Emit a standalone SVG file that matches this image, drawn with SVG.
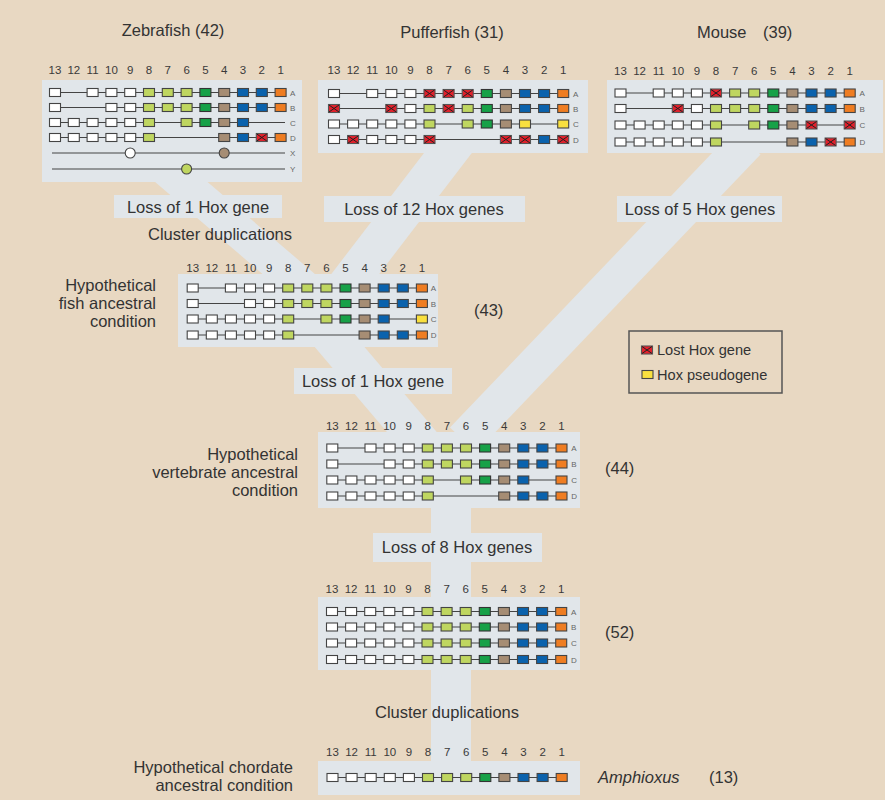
<svg xmlns="http://www.w3.org/2000/svg" xmlns:xlink="http://www.w3.org/1999/xlink" width="891" height="804" viewBox="0 0 891 804">
<style>
text{font-family:"Liberation Sans",Arial,sans-serif;fill:#333}
.t{font-size:16.5px}
.tr{font-size:16.5px;text-anchor:end}
.tm{font-size:16.5px;text-anchor:middle}
.n{font-size:11.5px;text-anchor:middle;fill:#3a3a3a}
.r{font-size:8px;fill:#666}
.p{fill:#e1e6ea}
.band{stroke:#e1e6ea;fill:none}
.ln{stroke:#444;stroke-width:1.1}
.lg{font-size:14.6px}
</style>
<defs>
<rect id="w" x="-5.5" y="-4" width="11" height="8" fill="#fff" stroke="#444" stroke-width="1.1"/>
<rect id="lg" x="-5.5" y="-4" width="11" height="8" fill="#bfd660" stroke="#444" stroke-width="1.1"/>
<rect id="dg" x="-5.5" y="-4" width="11" height="8" fill="#17a148" stroke="#333" stroke-width="1.1"/>
<rect id="br" x="-5.5" y="-4" width="11" height="8" fill="#a68d74" stroke="#444" stroke-width="1.1"/>
<rect id="bl" x="-5.5" y="-4" width="11" height="8" fill="#0a62ad" stroke="#444" stroke-width="1.1"/>
<rect id="or" x="-5.5" y="-4" width="11" height="8" fill="#ef7d22" stroke="#444" stroke-width="1.1"/>
<rect id="ye" x="-5.5" y="-4" width="11" height="8" fill="#f9e03f" stroke="#444" stroke-width="1.1"/>
<g id="lo"><rect x="-5.5" y="-4" width="11" height="8" fill="#e3202b" stroke="#555" stroke-width="1.1"/><path d="M-5,-3.5L5,3.5M-5,3.5L5,-3.5" stroke="#222" stroke-width="1"/></g>
<g id="hdr">
<text class="n" x="0">13</text><text class="n" x="19.1">12</text><text class="n" x="38.2">11</text><text class="n" x="57.3">10</text><text class="n" x="76.4">9</text><text class="n" x="95.5">8</text><text class="n" x="114.6">7</text><text class="n" x="133.7">6</text><text class="n" x="152.8">5</text><text class="n" x="171.9">4</text><text class="n" x="191">3</text><text class="n" x="210.1">2</text><text class="n" x="229.2">1</text>
</g>
<g id="full">
<line class="ln" x1="0" y1="0" x2="229.2" y2="0"/>
<use xlink:href="#w" x="0"/><use xlink:href="#w" x="19.1"/><use xlink:href="#w" x="38.2"/><use xlink:href="#w" x="57.3"/><use xlink:href="#w" x="76.4"/><use xlink:href="#lg" x="95.5"/><use xlink:href="#lg" x="114.6"/><use xlink:href="#lg" x="133.7"/><use xlink:href="#dg" x="152.8"/><use xlink:href="#br" x="171.9"/><use xlink:href="#bl" x="191"/><use xlink:href="#bl" x="210.1"/><use xlink:href="#or" x="229.2"/>
</g>
</defs>

<rect x="0" y="0" width="891" height="804" fill="#fff"/>
<rect x="0" y="0" width="885" height="800" fill="#e8d8c2"/>

<g id="connectors">
<line class="band" x1="158" y1="162" x2="305" y2="288" stroke-width="34"/>
<line class="band" x1="464" y1="132" x2="343" y2="290" stroke-width="38"/>
<line class="band" x1="326" y1="331" x2="428" y2="451" stroke-width="38"/>
<line class="band" x1="747.5" y1="142" x2="463" y2="440" stroke-width="36"/>
<rect class="p" x="431" y="500" width="40" height="270"/>
</g>

<g id="zebrafish">
<rect class="p" x="42" y="80" width="260" height="102"/>
<text class="t" x="173" y="36" text-anchor="middle">Zebrafish (42)</text>
<g transform="translate(55,74)">
<text class="n" x="0">13</text><text class="n" x="18.8">12</text><text class="n" x="37.6">11</text><text class="n" x="56.4">10</text><text class="n" x="75.2">9</text><text class="n" x="94">8</text><text class="n" x="112.8">7</text><text class="n" x="131.6">6</text><text class="n" x="150.4">5</text><text class="n" x="169.2">4</text><text class="n" x="188">3</text><text class="n" x="206.8">2</text><text class="n" x="225.6">1</text>
</g>
<g transform="translate(55,92.5)">
<line class="ln" x1="0" y1="0" x2="225.6" y2="0"/>
<use xlink:href="#w" x="0"/><use xlink:href="#w" x="37.6"/><use xlink:href="#w" x="56.4"/><use xlink:href="#w" x="75.2"/><use xlink:href="#lg" x="94"/><use xlink:href="#lg" x="112.8"/><use xlink:href="#lg" x="131.6"/><use xlink:href="#dg" x="150.4"/><use xlink:href="#br" x="169.2"/><use xlink:href="#bl" x="188"/><use xlink:href="#bl" x="206.8"/><use xlink:href="#or" x="225.6"/>
<text class="r" x="235" y="3">A</text>
</g>
<g transform="translate(55,107.5)">
<line class="ln" x1="0" y1="0" x2="225.6" y2="0"/>
<use xlink:href="#w" x="0"/><use xlink:href="#w" x="56.4"/><use xlink:href="#w" x="75.2"/><use xlink:href="#lg" x="94"/><use xlink:href="#lg" x="112.8"/><use xlink:href="#lg" x="131.6"/><use xlink:href="#dg" x="150.4"/><use xlink:href="#br" x="169.2"/><use xlink:href="#bl" x="188"/><use xlink:href="#bl" x="206.8"/><use xlink:href="#or" x="225.6"/>
<text class="r" x="235" y="3">B</text>
</g>
<g transform="translate(55,122.5)">
<line class="ln" x1="0" y1="0" x2="230" y2="0"/>
<use xlink:href="#w" x="0"/><use xlink:href="#w" x="18.8"/><use xlink:href="#w" x="37.6"/><use xlink:href="#w" x="56.4"/><use xlink:href="#w" x="75.2"/><use xlink:href="#lg" x="94"/><use xlink:href="#lg" x="131.6"/><use xlink:href="#dg" x="150.4"/><use xlink:href="#br" x="169.2"/><use xlink:href="#bl" x="188"/>
<text class="r" x="235" y="3">C</text>
</g>
<g transform="translate(55,137.5)">
<line class="ln" x1="0" y1="0" x2="225.6" y2="0"/>
<use xlink:href="#w" x="0"/><use xlink:href="#w" x="18.8"/><use xlink:href="#w" x="37.6"/><use xlink:href="#w" x="56.4"/><use xlink:href="#w" x="75.2"/><use xlink:href="#lg" x="94"/><use xlink:href="#br" x="169.2"/><use xlink:href="#bl" x="188"/><use xlink:href="#lo" x="206.8"/><use xlink:href="#or" x="225.6"/>
<text class="r" x="235" y="3">D</text>
</g>
<g transform="translate(55,153)">
<line class="ln" x1="-3" y1="0" x2="230" y2="0"/>
<circle cx="75.2" cy="0" r="5" fill="#fff" stroke="#444" stroke-width="1.1"/>
<circle cx="169.2" cy="0" r="5" fill="#a68d74" stroke="#444" stroke-width="1.1"/>
<text class="r" x="235" y="3">X</text>
</g>
<g transform="translate(55,169)">
<line class="ln" x1="-3" y1="0" x2="230" y2="0"/>
<circle cx="131.6" cy="0" r="5" fill="#bfd660" stroke="#444" stroke-width="1.1"/>
<text class="r" x="235" y="3">Y</text>
</g>
</g>

<g id="pufferfish">
<rect class="p" x="318" y="80" width="270" height="73"/>
<text class="t" x="452" y="38" text-anchor="middle">Pufferfish (31)</text>
<use xlink:href="#hdr" x="334" y="74"/>
<g transform="translate(334,93.5)">
<line class="ln" x1="0" y1="0" x2="229.2" y2="0"/>
<use xlink:href="#w" x="0"/><use xlink:href="#w" x="38.2"/><use xlink:href="#w" x="57.3"/><use xlink:href="#w" x="76.4"/><use xlink:href="#lo" x="95.5"/><use xlink:href="#lo" x="114.6"/><use xlink:href="#lo" x="133.7"/><use xlink:href="#dg" x="152.8"/><use xlink:href="#br" x="171.9"/><use xlink:href="#bl" x="191"/><use xlink:href="#bl" x="210.1"/><use xlink:href="#or" x="229.2"/>
<text class="r" x="239" y="3">A</text>
</g>
<g transform="translate(334,108.5)">
<line class="ln" x1="0" y1="0" x2="229.2" y2="0"/>
<use xlink:href="#lo" x="0"/><use xlink:href="#lo" x="57.3"/><use xlink:href="#w" x="76.4"/><use xlink:href="#lg" x="95.5"/><use xlink:href="#lo" x="114.6"/><use xlink:href="#lg" x="133.7"/><use xlink:href="#dg" x="152.8"/><use xlink:href="#br" x="171.9"/><use xlink:href="#bl" x="191"/><use xlink:href="#bl" x="210.1"/><use xlink:href="#or" x="229.2"/>
<text class="r" x="239" y="3">B</text>
</g>
<g transform="translate(334,124)">
<line class="ln" x1="0" y1="0" x2="229.2" y2="0"/>
<use xlink:href="#w" x="0"/><use xlink:href="#w" x="19.1"/><use xlink:href="#w" x="38.2"/><use xlink:href="#w" x="57.3"/><use xlink:href="#w" x="76.4"/><use xlink:href="#lg" x="95.5"/><use xlink:href="#lg" x="133.7"/><use xlink:href="#dg" x="152.8"/><use xlink:href="#br" x="171.9"/><use xlink:href="#ye" x="191"/><use xlink:href="#ye" x="229.2"/>
<text class="r" x="239" y="3">C</text>
</g>
<g transform="translate(334,139.5)">
<line class="ln" x1="0" y1="0" x2="229.2" y2="0"/>
<use xlink:href="#w" x="0"/><use xlink:href="#lo" x="19.1"/><use xlink:href="#w" x="38.2"/><use xlink:href="#w" x="57.3"/><use xlink:href="#w" x="76.4"/><use xlink:href="#lo" x="95.5"/><use xlink:href="#lo" x="171.9"/><use xlink:href="#lo" x="191"/><use xlink:href="#bl" x="210.1"/><use xlink:href="#lo" x="229.2"/>
<text class="r" x="239" y="3">D</text>
</g>
</g>

<g id="mouse">
<rect class="p" x="607" y="80" width="276" height="73"/>
<text class="t" x="697" y="38">Mouse</text>
<text class="t" x="763" y="38">(39)</text>
<use xlink:href="#hdr" x="620.5" y="75"/>
<g transform="translate(620.5,93)">
<line class="ln" x1="0" y1="0" x2="229.2" y2="0"/>
<use xlink:href="#w" x="0"/><use xlink:href="#w" x="38.2"/><use xlink:href="#w" x="57.3"/><use xlink:href="#w" x="76.4"/><use xlink:href="#lo" x="95.5"/><use xlink:href="#lg" x="114.6"/><use xlink:href="#lg" x="133.7"/><use xlink:href="#dg" x="152.8"/><use xlink:href="#br" x="171.9"/><use xlink:href="#bl" x="191"/><use xlink:href="#bl" x="210.1"/><use xlink:href="#or" x="229.2"/>
<text class="r" x="239" y="3">A</text>
</g>
<g transform="translate(620.5,108.5)">
<line class="ln" x1="0" y1="0" x2="229.2" y2="0"/>
<use xlink:href="#w" x="0"/><use xlink:href="#lo" x="57.3"/><use xlink:href="#w" x="76.4"/><use xlink:href="#lg" x="95.5"/><use xlink:href="#lg" x="114.6"/><use xlink:href="#lg" x="133.7"/><use xlink:href="#dg" x="152.8"/><use xlink:href="#br" x="171.9"/><use xlink:href="#bl" x="191"/><use xlink:href="#bl" x="210.1"/><use xlink:href="#or" x="229.2"/>
<text class="r" x="239" y="3">B</text>
</g>
<g transform="translate(620.5,125)">
<line class="ln" x1="0" y1="0" x2="229.2" y2="0"/>
<use xlink:href="#w" x="0"/><use xlink:href="#w" x="19.1"/><use xlink:href="#w" x="38.2"/><use xlink:href="#w" x="57.3"/><use xlink:href="#w" x="76.4"/><use xlink:href="#lg" x="95.5"/><use xlink:href="#lg" x="133.7"/><use xlink:href="#dg" x="152.8"/><use xlink:href="#br" x="171.9"/><use xlink:href="#lo" x="191"/><use xlink:href="#lo" x="229.2"/>
<text class="r" x="239" y="3">C</text>
</g>
<g transform="translate(620.5,142)">
<line class="ln" x1="0" y1="0" x2="229.2" y2="0"/>
<use xlink:href="#w" x="0"/><use xlink:href="#w" x="19.1"/><use xlink:href="#w" x="38.2"/><use xlink:href="#w" x="57.3"/><use xlink:href="#w" x="76.4"/><use xlink:href="#lg" x="95.5"/><use xlink:href="#br" x="171.9"/><use xlink:href="#bl" x="191"/><use xlink:href="#lo" x="210.1"/><use xlink:href="#or" x="229.2"/>
<text class="r" x="239" y="3">D</text>
</g>
</g>

<g id="fish-ancestor">
<rect class="p" x="178" y="274" width="260" height="73"/>
<text class="tr" x="156" y="291">Hypothetical</text>
<text class="tr" x="156" y="309">fish ancestral</text>
<text class="tr" x="156" y="327">condition</text>
<text class="t" x="474" y="316">(43)</text>
<use xlink:href="#hdr" x="192.7" y="272"/>
<g transform="translate(192.7,288)">
<line class="ln" x1="0" y1="0" x2="229.2" y2="0"/>
<use xlink:href="#w" x="0"/><use xlink:href="#w" x="38.2"/><use xlink:href="#w" x="57.3"/><use xlink:href="#w" x="76.4"/><use xlink:href="#lg" x="95.5"/><use xlink:href="#lg" x="114.6"/><use xlink:href="#lg" x="133.7"/><use xlink:href="#dg" x="152.8"/><use xlink:href="#br" x="171.9"/><use xlink:href="#bl" x="191"/><use xlink:href="#bl" x="210.1"/><use xlink:href="#or" x="229.2"/>
<text class="r" x="238" y="3">A</text>
</g>
<g transform="translate(192.7,303.5)">
<line class="ln" x1="0" y1="0" x2="229.2" y2="0"/>
<use xlink:href="#w" x="0"/><use xlink:href="#w" x="57.3"/><use xlink:href="#w" x="76.4"/><use xlink:href="#lg" x="95.5"/><use xlink:href="#lg" x="114.6"/><use xlink:href="#lg" x="133.7"/><use xlink:href="#dg" x="152.8"/><use xlink:href="#br" x="171.9"/><use xlink:href="#bl" x="191"/><use xlink:href="#bl" x="210.1"/><use xlink:href="#or" x="229.2"/>
<text class="r" x="238" y="3">B</text>
</g>
<g transform="translate(192.7,319)">
<line class="ln" x1="0" y1="0" x2="229.2" y2="0"/>
<use xlink:href="#w" x="0"/><use xlink:href="#w" x="19.1"/><use xlink:href="#w" x="38.2"/><use xlink:href="#w" x="57.3"/><use xlink:href="#w" x="76.4"/><use xlink:href="#lg" x="95.5"/><use xlink:href="#lg" x="133.7"/><use xlink:href="#dg" x="152.8"/><use xlink:href="#br" x="171.9"/><use xlink:href="#bl" x="191"/><use xlink:href="#ye" x="229.2"/>
<text class="r" x="238" y="3">C</text>
</g>
<g transform="translate(192.7,335)">
<line class="ln" x1="0" y1="0" x2="229.2" y2="0"/>
<use xlink:href="#w" x="0"/><use xlink:href="#w" x="19.1"/><use xlink:href="#w" x="38.2"/><use xlink:href="#w" x="57.3"/><use xlink:href="#w" x="76.4"/><use xlink:href="#lg" x="95.5"/><use xlink:href="#br" x="171.9"/><use xlink:href="#bl" x="191"/><use xlink:href="#bl" x="210.1"/><use xlink:href="#or" x="229.2"/>
<text class="r" x="238" y="3">D</text>
</g>
</g>

<g id="vertebrate-ancestor">
<rect class="p" x="318" y="432" width="262" height="76"/>
<text class="tr" x="298" y="460">Hypothetical</text>
<text class="tr" x="298" y="478">vertebrate ancestral</text>
<text class="tr" x="298" y="496">condition</text>
<text class="t" x="605" y="474">(44)</text>
<use xlink:href="#hdr" x="332.3" y="430"/>
<g transform="translate(332.3,448)">
<line class="ln" x1="0" y1="0" x2="229.2" y2="0"/>
<use xlink:href="#w" x="0"/><use xlink:href="#w" x="38.2"/><use xlink:href="#w" x="57.3"/><use xlink:href="#w" x="76.4"/><use xlink:href="#lg" x="95.5"/><use xlink:href="#lg" x="114.6"/><use xlink:href="#lg" x="133.7"/><use xlink:href="#dg" x="152.8"/><use xlink:href="#br" x="171.9"/><use xlink:href="#bl" x="191"/><use xlink:href="#bl" x="210.1"/><use xlink:href="#or" x="229.2"/>
<text class="r" x="239" y="3">A</text>
</g>
<g transform="translate(332.3,464)">
<line class="ln" x1="0" y1="0" x2="229.2" y2="0"/>
<use xlink:href="#w" x="0"/><use xlink:href="#w" x="57.3"/><use xlink:href="#w" x="76.4"/><use xlink:href="#lg" x="95.5"/><use xlink:href="#lg" x="114.6"/><use xlink:href="#lg" x="133.7"/><use xlink:href="#dg" x="152.8"/><use xlink:href="#br" x="171.9"/><use xlink:href="#bl" x="191"/><use xlink:href="#bl" x="210.1"/><use xlink:href="#or" x="229.2"/>
<text class="r" x="239" y="3">B</text>
</g>
<g transform="translate(332.3,480)">
<line class="ln" x1="0" y1="0" x2="229.2" y2="0"/>
<use xlink:href="#w" x="0"/><use xlink:href="#w" x="19.1"/><use xlink:href="#w" x="38.2"/><use xlink:href="#w" x="57.3"/><use xlink:href="#w" x="76.4"/><use xlink:href="#lg" x="95.5"/><use xlink:href="#lg" x="133.7"/><use xlink:href="#dg" x="152.8"/><use xlink:href="#br" x="171.9"/><use xlink:href="#bl" x="191"/><use xlink:href="#or" x="229.2"/>
<text class="r" x="239" y="3">C</text>
</g>
<g transform="translate(332.3,496)">
<line class="ln" x1="0" y1="0" x2="229.2" y2="0"/>
<use xlink:href="#w" x="0"/><use xlink:href="#w" x="19.1"/><use xlink:href="#w" x="38.2"/><use xlink:href="#w" x="57.3"/><use xlink:href="#w" x="76.4"/><use xlink:href="#lg" x="95.5"/><use xlink:href="#br" x="171.9"/><use xlink:href="#bl" x="191"/><use xlink:href="#bl" x="210.1"/><use xlink:href="#or" x="229.2"/>
<text class="r" x="239" y="3">D</text>
</g>
</g>

<g id="ancestor-52">
<rect class="p" x="318" y="597" width="262" height="73"/>
<text class="t" x="605" y="638">(52)</text>
<use xlink:href="#hdr" x="332" y="593"/>
<g transform="translate(332,611.5)"><use xlink:href="#full"/><text class="r" x="239" y="3">A</text></g>
<g transform="translate(332,627)"><use xlink:href="#full"/><text class="r" x="239" y="3">B</text></g>
<g transform="translate(332,643)"><use xlink:href="#full"/><text class="r" x="239" y="3">C</text></g>
<g transform="translate(332,659.5)"><use xlink:href="#full"/><text class="r" x="239" y="3">D</text></g>
</g>

<g id="chordate-ancestor">
<rect class="p" x="318" y="761" width="262" height="34"/>
<text class="tr" x="293" y="773">Hypothetical chordate</text>
<text class="tr" x="293" y="791">ancestral condition</text>
<text class="t" x="598" y="783" font-style="italic">Amphioxus</text>
<text class="t" x="709" y="783">(13)</text>
<use xlink:href="#hdr" x="332.5" y="756"/>
<g transform="translate(332.5,777.5)"><use xlink:href="#full"/></g>
</g>

<g id="labels">
<rect class="p" x="114" y="195" width="168" height="23"/>
<text class="tm" x="198" y="213">Loss of 1 Hox gene</text>
<text class="tm" x="220" y="240">Cluster duplications</text>
<rect class="p" x="324" y="196" width="201" height="26"/>
<text class="tm" x="424" y="215">Loss of 12 Hox genes</text>
<rect class="p" x="617" y="196" width="165" height="26"/>
<text class="tm" x="700" y="215">Loss of 5 Hox genes</text>
<rect class="p" x="294" y="368" width="158" height="26"/>
<text class="tm" x="373" y="387">Loss of 1 Hox gene</text>
<rect class="p" x="373" y="533" width="169" height="29"/>
<text class="tm" x="457" y="553">Loss of 8 Hox genes</text>
<text class="tm" x="447" y="718">Cluster duplications</text>
</g>

<g id="legend">
<rect x="629" y="331" width="153" height="62" fill="none" stroke="#555" stroke-width="1.5"/>
<use xlink:href="#lo" x="647" y="350"/>
<text class="lg" x="657" y="355">Lost Hox gene</text>
<use xlink:href="#ye" x="647.5" y="374.5"/>
<text class="lg" x="657" y="380">Hox pseudogene</text>
</g>
</svg>
